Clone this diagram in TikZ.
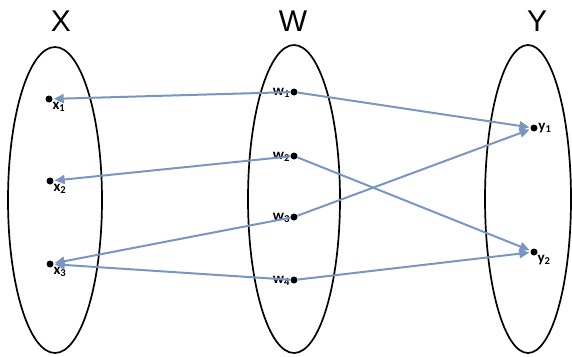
\documentclass[tikz,border=0pt]{standalone}
\usepackage{fontspec}
\setmainfont{Liberation Sans}
\newfontfamily\labfont{Carlito}
\usetikzlibrary{arrows.meta,positioning}
\definecolor{steelblue}{rgb}{0.47, 0.59, 0.76}

\begin{document}
\begin{tikzpicture}[x=1pt,y=-1pt,
    set/.style={draw=black,line width=1.7pt},
    elt/.style={circle,fill=black,inner sep=0pt,minimum size=7pt},
    lab/.style={font=\labfont\bfseries\fontsize{15}{17}\selectfont,inner sep=0.5pt},
    map/.style={steelblue,line width=2pt,-{Triangle[length=10pt,width=9pt]},shorten >=1pt}]
    \useasboundingbox (0,0) rectangle (572,356);

    % the three sets
    \draw[set] (55,200) ellipse (47 and 153);
    \draw[set] (294,199) ellipse (46 and 154);
    \draw[set] (528,199) ellipse (43 and 154);

    \node[font=\fontsize{30}{34}\selectfont] (X) at (61,21) {X};
    \node[font=\fontsize{30}{34}\selectfont] (W) at (293,21) {W};
    \node[font=\fontsize{30}{34}\selectfont] (Y) at (537,21) {Y};

    % elements
    \node[elt,label={[lab,anchor=north west]-40:x\textsubscript{1}}] (x1) at (49,99) {};
    \node[elt,label={[lab,anchor=north west]-40:x\textsubscript{2}}] (x2) at (50,181) {};
    \node[elt,label={[lab,anchor=north west]-40:x\textsubscript{3}}] (x3) at (50,264) {};

    \node[elt,label={[lab,anchor=east]200:w\textsubscript{1}}] (w1) at (294,92) {};
    \node[elt,label={[lab,anchor=east]200:w\textsubscript{2}}] (w2) at (294,156) {};
    \node[elt,label={[lab,anchor=east]200:w\textsubscript{3}}] (w3) at (294,217) {};
    \node[elt,label={[lab,anchor=east]200:w\textsubscript{4}}] (w4) at (294,280) {};

    \node[elt,label={[lab,anchor=west]0:y\textsubscript{1}}] (y1) at (534,128) {};
    \node[elt,label={[lab,anchor=north west]-40:y\textsubscript{2}}] (y2) at (534,252) {};

    % the relation
    \draw[map] (w1) -- (x1);
    \draw[map] (w1) -- (y1);
    \draw[map] (w2) -- (x2);
    \draw[map] (w2) -- (y2);
    \draw[map] (w3) -- (x3);
    \draw[map] (w3) -- (y1);
    \draw[map] (w4) -- (x3);
    \draw[map] (w4) -- (y2);
\end{tikzpicture}
\end{document}
